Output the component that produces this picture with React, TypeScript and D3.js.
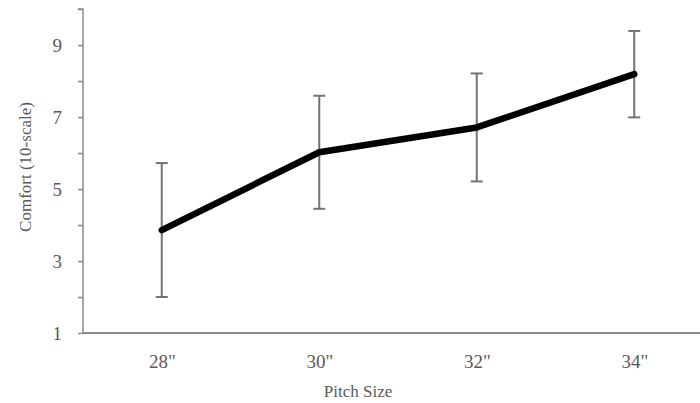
import React, { useEffect, useRef } from 'react'
import * as d3 from 'd3'

const categories = ['28"', '30"', '32"', '34"']
const comfortMeans = [3.86, 6.02, 6.71, 8.19]
const comfortErrors = [1.86, 1.57, 1.5, 1.2]
const yTickValues = [1, 2, 3, 4, 5, 6, 7, 8, 9, 10]
const yTickLabels = ['1', '', '3', '', '5', '', '7', '', '9', '']

const width = 700
const height = 403

export default function App() {
    const ref = useRef<SVGSVGElement>(null)

    useEffect(() => {
        const node = ref.current
        if (!node) return
        const svg = d3.select(node)
        svg.selectAll('*').remove()

        const margin = { top: 9, left: 83, bottom: 70 }
        const font = '"Liberation Serif", "DejaVu Serif", serif'
        const axisColor = '#8a8a8a'
        const textColor = '#595959'

        const x = d3.scalePoint<string>()
            .domain(categories)
            .range([margin.left, 713])
            .padding(0.5)

        const y = d3.scaleLinear()
            .domain([1, 10])
            .range([height - margin.bottom, margin.top])

        const data = categories.map((c, i) => ({ c, m: comfortMeans[i], e: comfortErrors[i] }))

        // y axis
        const yAxis = svg.append('g')
            .attr('transform', `translate(${margin.left},0)`)
            .call(d3.axisLeft(y).tickValues(yTickValues).tickSize(5).tickPadding(16)
                .tickFormat((d, i) => yTickLabels[i]))
        yAxis.select('.domain').attr('stroke', axisColor).attr('stroke-width', 1.5)
            .attr('d', `M-5,${y(10)}H0V${y(1)}`)
        yAxis.selectAll('.tick line').attr('stroke', axisColor).attr('stroke-width', 1.5)
        yAxis.selectAll('.tick text')
            .attr('fill', textColor).attr('font-family', font).attr('font-size', 19)

        // x axis
        const xAxis = svg.append('g')
            .attr('transform', `translate(0,${y(1)})`)
            .call(d3.axisBottom(x).tickSize(0))
        xAxis.select('.domain').attr('stroke', axisColor).attr('stroke-width', 2)
            .attr('d', `M${margin.left},0H${width}`)
        xAxis.selectAll('.tick text')
            .attr('y', 35).attr('dy', null)
            .attr('fill', textColor).attr('font-family', font).attr('font-size', 19)

        // error bars
        const bars = svg.append('g').selectAll('g').data(data).join('g')
            .attr('stroke', '#737373').attr('stroke-width', 2)
        bars.append('line')
            .attr('x1', d => x(d.c)!).attr('x2', d => x(d.c)!)
            .attr('y1', d => y(d.m - d.e)).attr('y2', d => y(d.m + d.e))
        bars.append('line')
            .attr('x1', d => x(d.c)! - 6).attr('x2', d => x(d.c)! + 6)
            .attr('y1', d => y(d.m + d.e)).attr('y2', d => y(d.m + d.e))
        bars.append('line')
            .attr('x1', d => x(d.c)! - 6).attr('x2', d => x(d.c)! + 6)
            .attr('y1', d => y(d.m - d.e)).attr('y2', d => y(d.m - d.e))

        // mean line
        const line = d3.line<{ c: string, m: number }>()
            .x(d => x(d.c)!)
            .y(d => y(d.m))
        svg.append('path')
            .datum(data)
            .attr('d', line)
            .attr('fill', 'none')
            .attr('stroke', '#000')
            .attr('stroke-width', 6.5)
            .attr('stroke-linecap', 'round')
            .attr('stroke-linejoin', 'round')

        // axis titles
        svg.append('text')
            .attr('transform', `translate(31,167) rotate(-90)`)
            .attr('text-anchor', 'middle')
            .attr('fill', textColor).attr('font-family', font).attr('font-size', 17)
            .text('Comfort (10-scale)')
        svg.append('text')
            .attr('x', 358).attr('y', 397)
            .attr('text-anchor', 'middle')
            .attr('fill', textColor).attr('font-family', font).attr('font-size', 17)
            .text('Pitch Size')
    }, [])

    return (
        <svg ref={ref} width={width} height={height}
            style={{ position: 'absolute', left: 0, top: 0, background: '#fff' }} />
    )
}
